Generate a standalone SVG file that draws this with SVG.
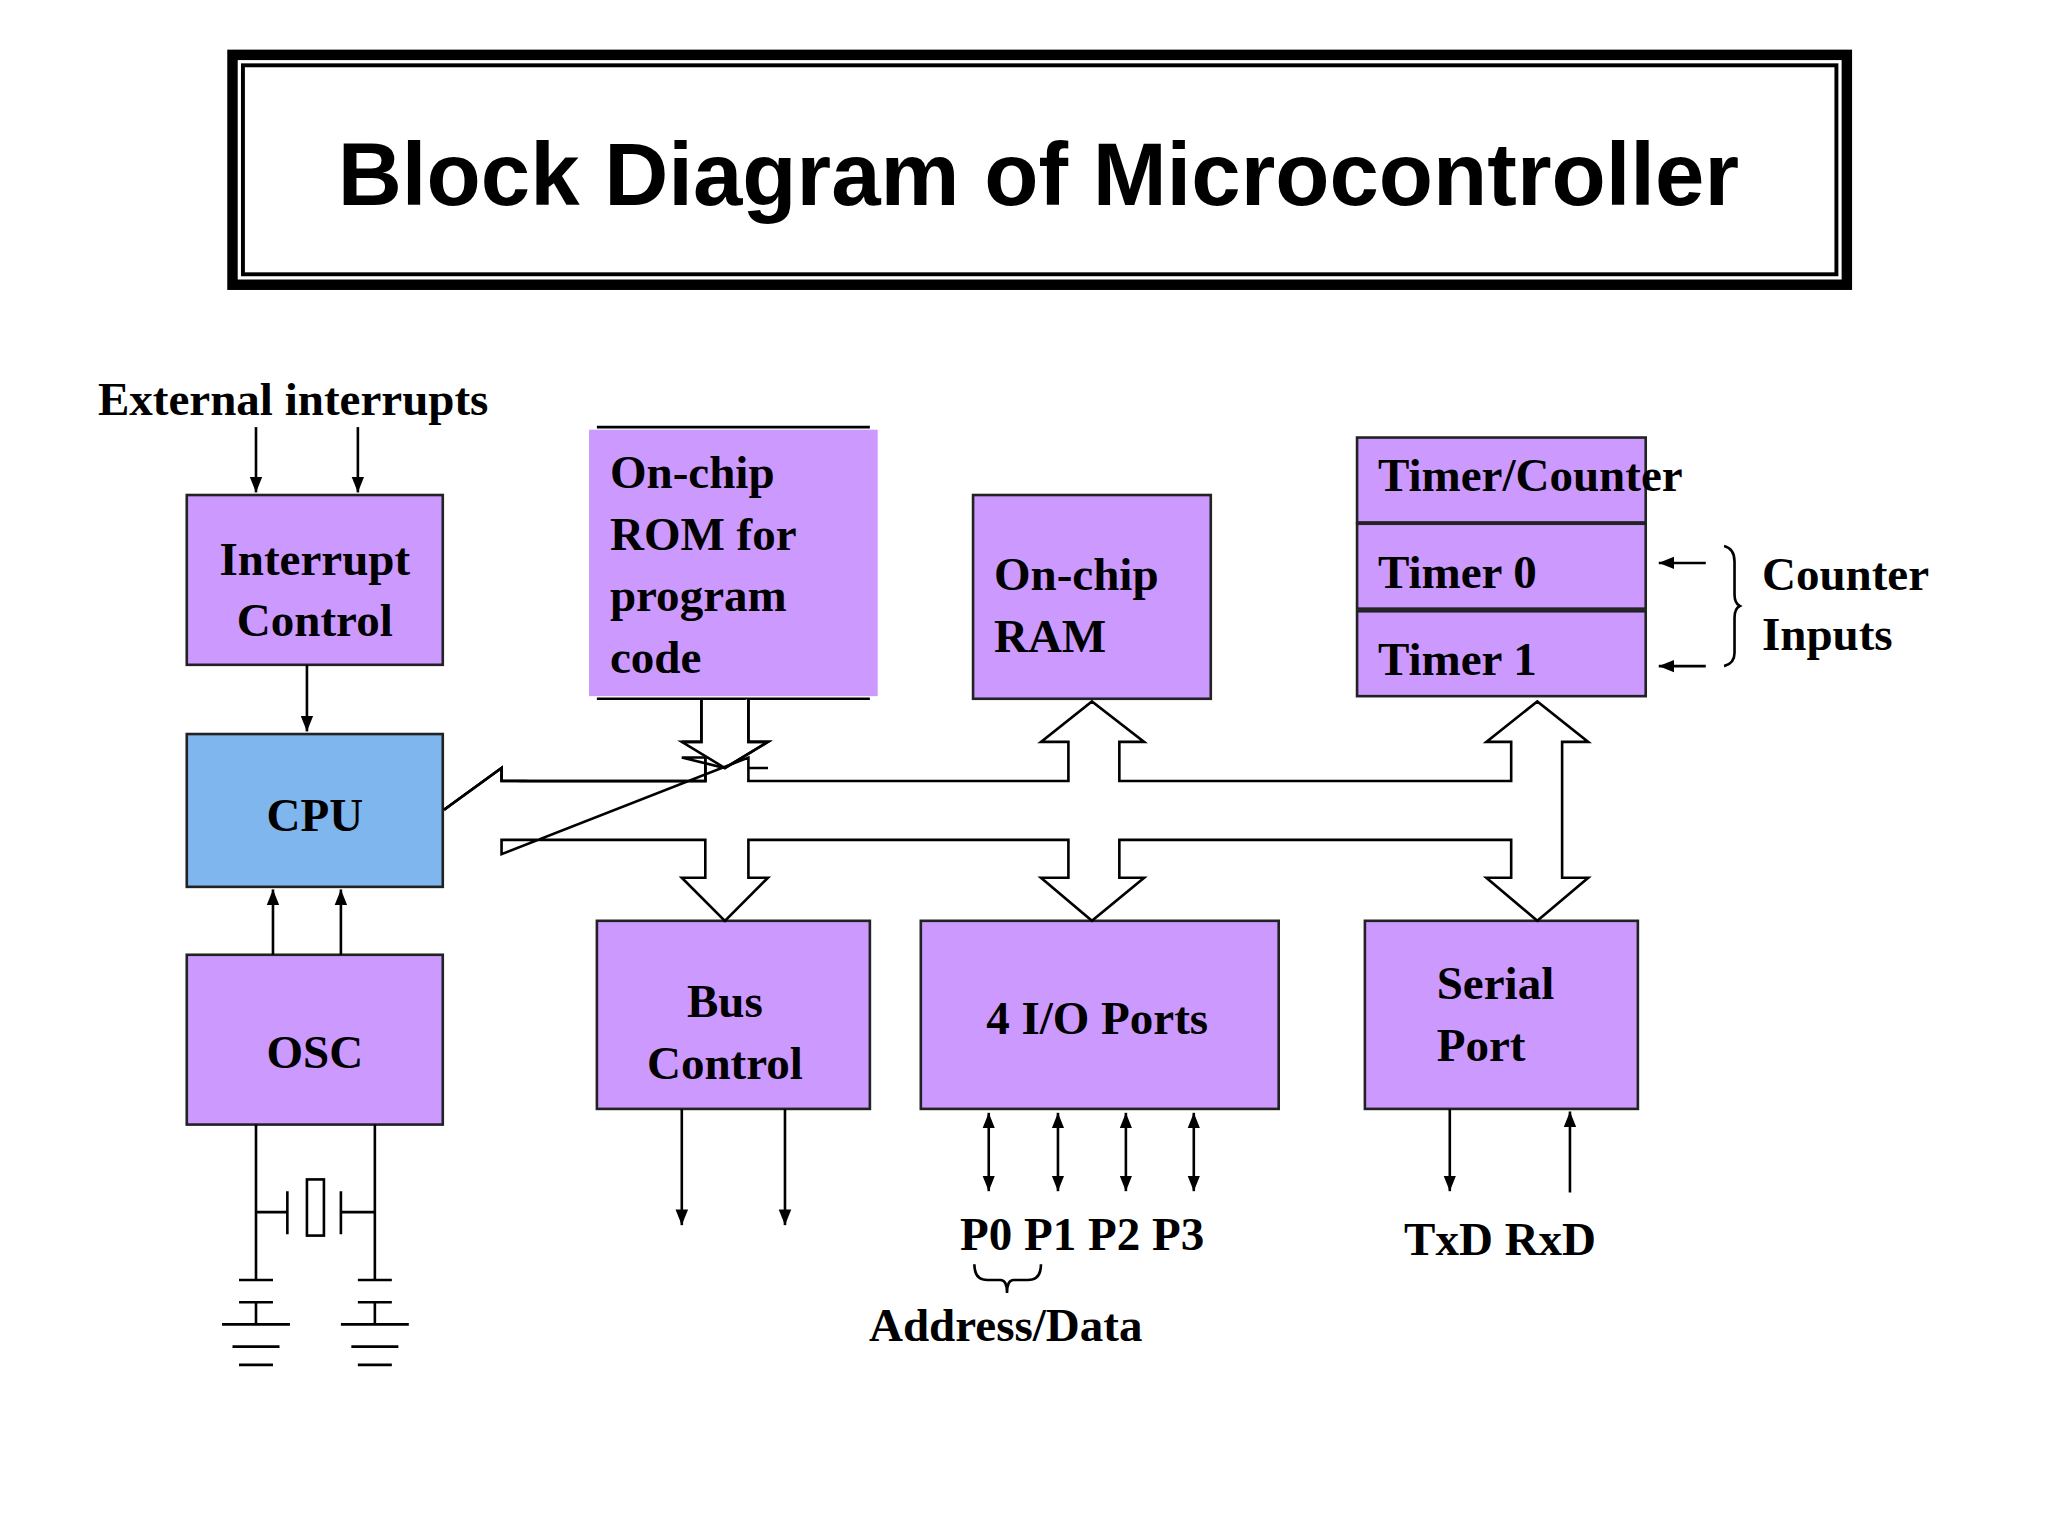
<svg xmlns="http://www.w3.org/2000/svg" width="2048" height="1536" viewBox="0 0 2048 1536">
<style>
.box{fill:#cc99ff;stroke:#222;stroke-width:2}
.t{font-family:"Liberation Serif",serif;font-weight:bold;font-size:36px;fill:#000}
.ln{stroke:#000;stroke-width:2;fill:none}
.bus{stroke:#000;stroke-width:2;fill:#fff}
</style>
<defs>
<marker id="ah" viewBox="0 0 10 10" refX="10" refY="5" markerWidth="6" markerHeight="6" orient="auto-start-reverse"><path d="M0,1 L10,5 L0,9 z" fill="#000"/></marker>
</defs>
<rect width="2048" height="1536" fill="#fff"/>
<g transform="scale(1.30612)">
<g id="title">
<rect x="178" y="42" width="1236" height="176" fill="none" stroke="#000" stroke-width="8"/>
<rect x="186" y="50" width="1220" height="160" fill="none" stroke="#000" stroke-width="3"/>
<text x="795" y="157" text-anchor="middle" style="font-family:'Liberation Sans',sans-serif;font-weight:bold;font-size:68px">Block Diagram of Microcontroller</text>
</g>
<text class="t" x="75" y="318">External interrupts</text>
<g id="interrupt"><rect class="box" x="143" y="379" width="196" height="130"/>
<text class="t" x="241" y="440" text-anchor="middle">Interrupt</text><text class="t" x="241" y="487" text-anchor="middle">Control</text></g>
<g id="cpu"><rect x="143" y="562" width="196" height="117" fill="#80b6ee" stroke="#222" stroke-width="2"/>
<text class="t" x="241" y="636" text-anchor="middle" font-size="38">CPU</text></g>
<g id="osc"><rect class="box" x="143" y="731" width="196" height="130"/>
<text class="t" x="241" y="818" text-anchor="middle">OSC</text></g>
<g id="rom"><line class="ln" x1="457" y1="327" x2="666" y2="327"/><line class="ln" x1="457" y1="535" x2="666" y2="535"/>
<rect x="451" y="329" width="221" height="204" fill="#cc99ff"/>
<text class="t" x="467" y="374">On-chip</text><text class="t" x="467" y="421">ROM for</text><text class="t" x="467" y="468">program</text><text class="t" x="467" y="515">code</text></g>
<g id="ram"><rect class="box" x="745" y="379" width="182" height="156"/>
<text class="t" x="761" y="452">On-chip</text><text class="t" x="761" y="499">RAM</text></g>
<g id="timer"><rect class="box" x="1039" y="335" width="221" height="65"/>
<text class="t" x="1055" y="376" font-size="28">Timer/Counter</text>
<rect class="box" x="1039" y="401" width="221" height="65"/><text class="t" x="1055" y="450">Timer 0</text>
<rect class="box" x="1039" y="468" width="221" height="65"/><text class="t" x="1055" y="517">Timer 1</text></g>
<text class="t" x="1349" y="452">Counter</text><text class="t" x="1349" y="498">Inputs</text>
<g id="bus"><rect class="box" x="457" y="705" width="209" height="144"/>
<text class="t" x="555" y="779" text-anchor="middle">Bus</text><text class="t" x="555" y="826" text-anchor="middle">Control</text></g>
<g id="io"><rect class="box" x="705" y="705" width="274" height="144"/>
<text class="t" x="840" y="792" text-anchor="middle">4 I/O Ports</text></g>
<g id="serial"><rect class="box" x="1045" y="705" width="209" height="144"/>
<text class="t" x="1100" y="765">Serial</text><text class="t" x="1100" y="812">Port</text></g>
<text class="t" x="735" y="957" font-size="32">P0 P1 P2 P3</text>
<text class="t" x="770" y="1027" text-anchor="middle">Address/Data</text>
<text class="t" x="1075" y="961">TxD  RxD</text>
<g id="connectors">
<line class="ln" x1="196" y1="327" x2="196" y2="377" marker-end="url(#ah)"/>
<line class="ln" x1="274" y1="327" x2="274" y2="377" marker-end="url(#ah)"/>
<line class="ln" x1="235" y1="509" x2="235" y2="560" marker-end="url(#ah)"/>
<line class="ln" x1="209" y1="731" x2="209" y2="681" marker-end="url(#ah)"/>
<line class="ln" x1="261" y1="731" x2="261" y2="681" marker-end="url(#ah)"/>
<path class="ln" d="M196,861V980M183,980H209M183,997H209M196,997V1014M170,1014H222M178,1031H214M183,1045H209"/>
<path class="ln" d="M287,861V980M274,980H300M274,997H300M287,997V1014M261,1014H313M269,1031H305M274,1045H300"/>
<path class="ln" d="M196,928H220M220,912V945M287,928H261M261,912V945"/>
<rect x="235" y="903" width="13" height="43" fill="#fff" stroke="#000" stroke-width="2"/>
<line class="ln" x1="1306" y1="431" x2="1270" y2="431" marker-end="url(#ah)"/>
<line class="ln" x1="1306" y1="510" x2="1270" y2="510" marker-end="url(#ah)"/>
<path class="ln" d="M1320,418 Q1328,420 1328,430 V455 Q1328,462 1332,464 Q1328,466 1328,473 V500 Q1328,508 1320,510" stroke-width="1.5"/>
<path class="bus" d="M340,620 L384,588 V598 H540 V588 H522 L555,568 M573,588 H588"/>
<path class="bus" d="M340,620 L384,588 V598 H540 V580 H522 L555,588 L588,568 H573 V535 M537,535 V568 H522"/>
<path class="ln" d="M340,620 L384,588 V598 H540 V580 M573,580 V598 H818 V568 H797 L836,537 L876,568 H857 V598 H1157 V568 H1138 L1177,537 L1216,568 H1196 V672 H1216 L1177,705 L1138,672 H1157 V643 H857 V672 H876 L836,705 L797,672 H818 V643 H573 V672 H588 L555,705 L522,672 H540 V643 H384 V654 Z" fill="none"/>
<path class="ln" d="M537,535 V568 H522 L555,588 L588,568 H573 V535"/>
<line class="ln" x1="522" y1="849" x2="522" y2="938" marker-end="url(#ah)"/>
<line class="ln" x1="601" y1="849" x2="601" y2="938" marker-end="url(#ah)"/>
<line class="ln" x1="757" y1="852" x2="757" y2="912" marker-start="url(#ah)" marker-end="url(#ah)"/>
<line class="ln" x1="810" y1="852" x2="810" y2="912" marker-start="url(#ah)" marker-end="url(#ah)"/>
<line class="ln" x1="862" y1="852" x2="862" y2="912" marker-start="url(#ah)" marker-end="url(#ah)"/>
<line class="ln" x1="914" y1="852" x2="914" y2="912" marker-start="url(#ah)" marker-end="url(#ah)"/>
<path class="ln" stroke-width="1.5" d="M746,968 Q746,980 756,980 H766 Q771,980 771,990 Q771,980 776,980 H787 Q797,980 797,968"/>
<line class="ln" x1="1110" y1="849" x2="1110" y2="912" marker-end="url(#ah)"/>
<line class="ln" x1="1202" y1="913" x2="1202" y2="851" marker-end="url(#ah)"/>
</g>
</g>
</svg>
